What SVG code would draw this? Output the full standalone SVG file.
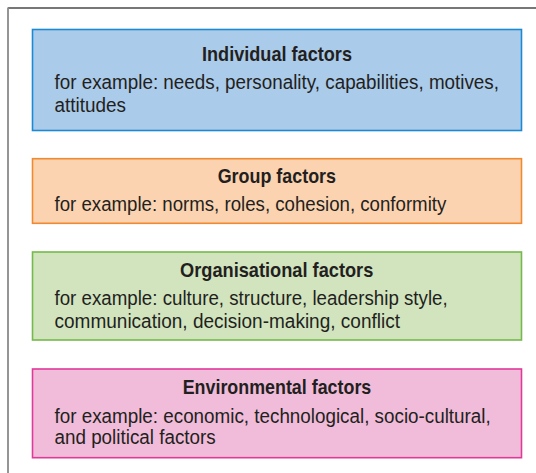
<svg xmlns="http://www.w3.org/2000/svg" width="536" height="473" viewBox="0 0 536 473">
  <style>
    .box { stroke-width: 1.6; }
    .title { font-family: "Liberation Sans Narrow", "Liberation Sans", Arial, sans-serif; font-weight: bold; font-size: 20.5px; fill: #231f20; }
    .body { font-family: "Liberation Sans Narrow", "Liberation Sans", Arial, sans-serif; font-size: 20px; fill: #231f20; }
  </style>
  <rect width="536" height="473" fill="#ffffff"/>
  <!-- open frame: top and left rules only -->
  <g id="frame" fill="none">
    <line x1="8" y1="8" x2="536" y2="8" stroke="#4a4a4a" stroke-width="1.5"/>
    <line x1="8" y1="7.5" x2="8" y2="473" stroke="#8a8a8a" stroke-width="1.8"/>
  </g>
  <g id="connectors"></g>

  <g id="individual">
    <rect class="box" x="32.5" y="29.5" width="489" height="101" fill="#abcbea" stroke="#1b8ad3"/>
    <text class="title" x="202" y="61" textLength="150" lengthAdjust="spacingAndGlyphs">Individual factors</text>
    <text class="body" x="54.5" y="89.3" textLength="444.5" lengthAdjust="spacingAndGlyphs">for example: needs, personality, capabilities, motives,</text>
    <text class="body" x="54.5" y="111.7" textLength="71.5" lengthAdjust="spacingAndGlyphs">attitudes</text>
  </g>

  <g id="group">
    <rect class="box" x="32.5" y="158.7" width="489" height="64.6" fill="#fbd3b0" stroke="#f08a30"/>
    <text class="title" x="217.7" y="183.3" textLength="118.3" lengthAdjust="spacingAndGlyphs">Group factors</text>
    <text class="body" x="54.5" y="211" textLength="391.8" lengthAdjust="spacingAndGlyphs">for example: norms, roles, cohesion, conformity</text>
  </g>

  <g id="organisational">
    <rect class="box" x="32.5" y="252" width="489" height="88" fill="#d1e4be" stroke="#75b94a"/>
    <text class="title" x="180" y="276.7" textLength="193.3" lengthAdjust="spacingAndGlyphs">Organisational factors</text>
    <text class="body" x="54.5" y="305" textLength="393.2" lengthAdjust="spacingAndGlyphs">for example: culture, structure, leadership style,</text>
    <text class="body" x="54.5" y="327.6" textLength="345.5" lengthAdjust="spacingAndGlyphs">communication, decision-making, conflict</text>
  </g>

  <g id="environmental">
    <rect class="box" x="32.5" y="369" width="489" height="88.7" fill="#f0bcd9" stroke="#e0399a"/>
    <text class="title" x="182.7" y="394.3" textLength="188.6" lengthAdjust="spacingAndGlyphs">Environmental factors</text>
    <text class="body" x="54.5" y="422.5" textLength="436.2" lengthAdjust="spacingAndGlyphs">for example: economic, technological, socio-cultural,</text>
    <text class="body" x="54.5" y="444" textLength="161.2" lengthAdjust="spacingAndGlyphs">and political factors</text>
  </g>
</svg>
